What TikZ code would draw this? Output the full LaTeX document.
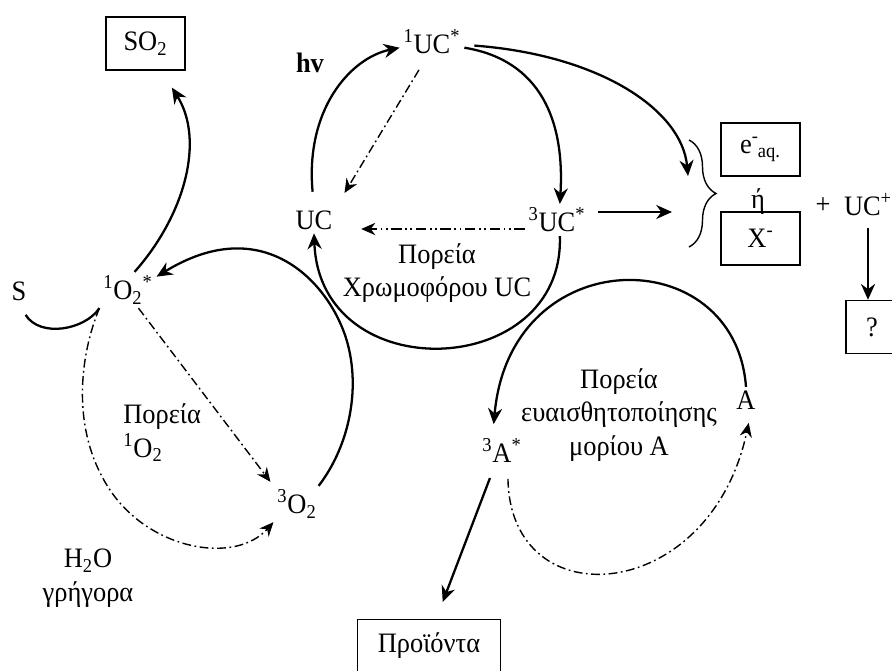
\documentclass[tikz,border=0pt]{standalone}
\usepackage{fontspec}
\setmainfont{Liberation Serif}[FakeStretch=0.94]
\usetikzlibrary{arrows.meta, decorations.pathreplacing}
\tikzstyle{chem} = [inner sep=2pt]
\tikzstyle{box} = [rectangle, draw, line width=0.8pt, text centered, minimum width=1.58cm, minimum height=1.06cm]
\tikzstyle{line} = [line width=1.3pt]
\tikzstyle{arrow} = [line width=1.3pt, -{Stealth[length=9pt, width=8pt]}]
\tikzstyle{dasharrow} = [line width=0.8pt, dash pattern=on 5pt off 2pt on 1pt off 2pt, -{Stealth[length=8pt, width=7pt]}]
\tikzstyle{dashdotarrow} = [line width=0.8pt, dash pattern=on 6pt off 2pt on 1pt off 2pt on 1pt off 2pt, -{Stealth[length=8pt, width=7pt]}]
\tikzstyle{pathlabel} = [align=center, inner sep=0pt]

\begin{document}
\begin{tikzpicture}[x=0.02cm, y=-0.02cm, font=\fontsize{16}{19}\selectfont]
\useasboundingbox (0,0) rectangle (892,671);
% species
\node [box] (so2) at (145.5,43.5) {SO\textsubscript{2}};
\node [chem] (hv) at (310,63) {\textbf{hv}};
\node [chem] (uc_1) at (432,42) {\textsuperscript{1}UC\textsuperscript{*}};
\node [chem] (uc) at (314,220) {UC};
\node [chem] (uc_3) at (557,220) {\textsuperscript{3}UC\textsuperscript{*}};
\node [box] (e_aq) at (760.5,149.5) {e\textsuperscript{-}\kern-0.5pt\textsubscript{aq.}};
\node [chem] (or) at (758,202) {ή};
\node [box] (x_ion) at (760.5,238.5) {X\textsuperscript{-}};
\node [chem] (plus) at (823,206) {+};
\node [chem] (uc_plus) at (868,205) {UC\textsuperscript{+}};
\node [box, minimum width=1.04cm] (unknown) at (872,327) {?};
\node [chem] (s) at (19,291) {S};
\node [chem] (o2_1) at (128,290) {\textsuperscript{1}O\textsubscript{2}\textsuperscript{*}};
\node [chem] (o2_3) at (297,504) {\textsuperscript{3}O\textsubscript{2}};
\node [chem] (a_3) at (502,450) {\textsuperscript{3}A\textsuperscript{*}};
\node [chem] (a) at (746,400) {A};
\node [box, minimum width=2.86cm] (products) at (429,646) {Προϊόντα};
% labels
\node [pathlabel] (uc_path) at (437,273) {Πορεία\\Χρωμοφόρου UC};
\node [pathlabel, align=left, anchor=west] (o2_path) at (123,433) {Πορεία\\\textsuperscript{1}O\textsubscript{2}};
\node [pathlabel] (water) at (88,578) {H\textsubscript{2}O\\γρήγορα};
\node [pathlabel] (a_path) at (619,415) {Πορεία\\ευαισθητοποίησης\\μορίου A};
% brace
\coordinate (brace_top) at (689,140);
\coordinate (brace_bot) at (689,247);
\coordinate (brace_in1) at (688,176);
\coordinate (brace_in2) at (672,212);
\draw [line width=0.8pt, decorate, decoration={brace, amplitude=0.54cm}] (brace_top) -- (brace_bot);
% chromophore cycle
\draw [arrow, shorten <=0.3cm] (uc.north) .. controls (305,110) and (350,58) .. (uc_1.-170);
\draw [dasharrow, shorten <=0.28cm, shorten >=0.32cm] (uc_1.-110) -- (uc.north east);
\draw [arrow] (uc_1.-10) .. controls (540,60) and (565,120) .. (uc_3.80);
\draw [arrow, shorten <=0.2cm] (uc_1.-5) .. controls (600,55) and (682,110) .. (brace_in1);
\draw [arrow, shorten <=0.18cm] (uc_3.east |- brace_in2) -- (brace_in2);
\draw [dashdotarrow, shorten >=0.5cm] ([yshift=-0.18cm]uc_3.west) -- ([yshift=-0.18cm]uc.east);
\draw [arrow] (uc_3.-80) .. controls (565,380) and (320,390) .. (uc.south);
\draw [arrow, shorten <=0.15cm] (uc_plus.south) -- (uc_plus.south |- unknown.north);
% singlet oxygen cycle
\draw [line, shorten <=0.25cm] (s.south) .. controls (40,338) and (85,330) .. (o2_1.south west);
\draw [arrow, shorten >=0.4cm] (o2_1.70) .. controls (185,215) and (205,140) .. (so2.-60);
\draw [arrow] (o2_3.40) .. controls (350,445) and (362,385) .. (345,335)
	.. controls (326,280) and (262,212) .. (o2_1.25);
\draw [dasharrow, shorten >=0.1cm] (o2_1.-60) -- (o2_3.north west);
\draw [dasharrow] (o2_1.south west) .. controls (80,355) and (70,430) .. (110,490)
	.. controls (150,550) and (235,565) .. (o2_3.south west);
% sensitizer cycle
\draw [arrow, shorten >=0.2cm] (a.north) .. controls (735,240) and (510,240) .. (a_3.120);
\draw [dasharrow, shorten <=0.26cm, shorten >=0.2cm] (a_3.-70) .. controls (510,620) and (710,605) .. (a.-70);
\draw [arrow, shorten <=0.26cm, shorten >=0.36cm] (a_3.-115) -- (products.75);
\end{tikzpicture}
\end{document}
